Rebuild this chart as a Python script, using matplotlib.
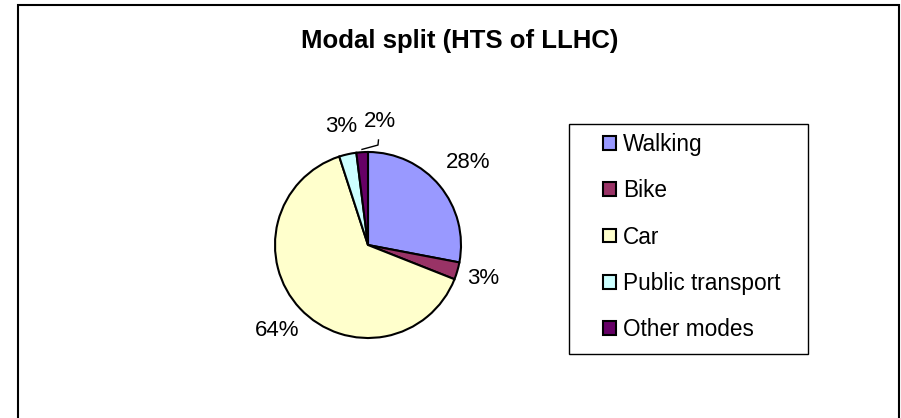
import numpy as np
import matplotlib
matplotlib.use("Agg")
import matplotlib.pyplot as plt
from matplotlib.patches import Rectangle

# data
modes = ["Walking", "Bike", "Car", "Public transport", "Other modes"]
shares = [28, 3, 64, 3, 2]
colors = ["#9999FF", "#993366", "#FFFFCC", "#CCFFFF", "#660066"]
title = "Modal split (HTS of LLHC)"

W, H = 901, 418
plt.rcParams["font.family"] = ["Liberation Sans", "DejaVu Sans"]

fig = plt.figure(figsize=(W / 100, H / 100), dpi=100)


def fx(px):
    return px / W


def fy(py):
    return 1 - py / H


# outer chart border (bottom runs off the picture)
fig.patches.append(Rectangle((fx(18), -0.05), fx(899) - fx(18), fy(5) + 0.05,
                             transform=fig.transFigure, fill=False,
                             edgecolor="black", linewidth=1.5, clip_on=False))

fig.text(fx(460), fy(48), title, ha="center", va="baseline",
         fontsize=18.5, fontweight="bold")

# pie: centre (368,245) px, radius 93 px
cx, cy, r = 368, 245, 93
half = 1.6 * r
ax = fig.add_axes([fx(cx - half), fy(cy + half), 2 * half / W, 2 * half / H])
wedges, _ = ax.pie(shares, colors=colors, startangle=90, counterclock=False,
                   radius=1, wedgeprops=dict(edgecolor="black", linewidth=1.5))
ax.set_xlim(-1.6, 1.6)
ax.set_ylim(-1.6, 1.6)
ax.set_aspect("equal")
ax.axis("off")

# distance of each % label centre from the pie centre (in radii)
label_dist = {"Walking": 1.40, "Bike": 1.29, "Car": 1.34,
              "Public transport": 1.31, "Other modes": 1.33}
for i, (w, v) in enumerate(zip(wedges, shares)):
    mid = np.deg2rad((w.theta1 + w.theta2) / 2)
    ang = mid
    if modes[i] == "Other modes":
        # label pushed aside, with a small leader line
        ang = mid - np.deg2rad(9)
        a2 = mid - np.deg2rad(9.3)
        xs = [1.03 * np.cos(mid), 1.08 * np.cos(a2), 1.135 * np.cos(a2)]
        ys = [1.03 * np.sin(mid), 1.08 * np.sin(a2), 1.135 * np.sin(a2)]
        ax.plot(xs, ys, color="black", linewidth=1.0)
    d = label_dist[modes[i]]
    ax.text(d * np.cos(ang), d * np.sin(ang), f"{v}%",
            ha="center", va="center", fontsize=16)

# legend box
fig.patches.append(Rectangle((fx(569), fy(354)), fx(808) - fx(569), fy(124) - fy(354),
                             transform=fig.transFigure, fill=False,
                             edgecolor="black", linewidth=1.0))
leg = fig.legend(wedges, modes, loc="center left",
                 bbox_to_anchor=(fx(603), fy(237)), frameon=False,
                 fontsize=16.3, borderpad=0, borderaxespad=0,
                 handlelength=0.57, handleheight=0.57, handletextpad=0.32,
                 labelspacing=1.02)

fig.savefig("out.png", dpi=100)
